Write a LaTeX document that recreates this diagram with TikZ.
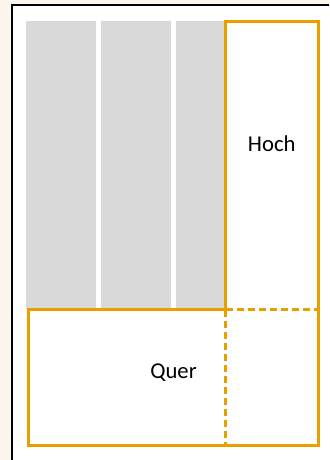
\documentclass[tikz,border=0pt]{standalone}
\usepackage{fontspec}
\setmainfont{Carlito}
\usepackage{xcolor}
\definecolor{cream}{RGB}{253,246,236}
\definecolor{panelgray}{RGB}{217,217,217}
\definecolor{cutorange}{RGB}{232,160,0}

\begin{document}
\begin{tikzpicture}[x=0.75pt,y=0.75pt,yscale=-1,xscale=1,
  cutline/.style={draw=cutorange, line width=2.25pt},
  cutdash/.style={draw=cutorange, line width=2.25pt, dash pattern=on 5.25pt off 3pt},
  cutlabel/.style={inner sep=0.75pt, font=\fontsize{17}{20}\selectfont}]
\useasboundingbox (0,0) rectangle (329,460);
\clip (0,0) rectangle (329,460);

%Shape: Background
\fill [cream] (0,0) rectangle (329,460);
%Shape: Sheet
\draw [fill=white, line width=1.5pt] (11.5,5.5) rectangle (345,475);

%Shape: Panels
\foreach \px/\pw in {26/70, 101/70, 176/50}
  \fill [panelgray] (\px,21) rectangle (\px+\pw,309);

%Shape: Rectangle Hoch
\draw [cutline] (225.5,309.5) -- (225.5,21.5) -- (318,21.5) -- (318,309.5);
\draw [cutdash] (225.5,309.5) -- (318,309.5);
%Shape: Rectangle Quer
\draw [cutline] (225.5,309.5) -- (28,309.5) -- (28,445.5) -- (318,445.5) -- (318,309.5);
\draw [cutdash] (225.5,309.5) -- (225.5,445.5);

% Text Node
\node [cutlabel] (hoch) at (271.75,144) {Hoch};
% Text Node
\node [cutlabel] (quer) at (173.5,373) {Quer};

\end{tikzpicture}
\end{document}
